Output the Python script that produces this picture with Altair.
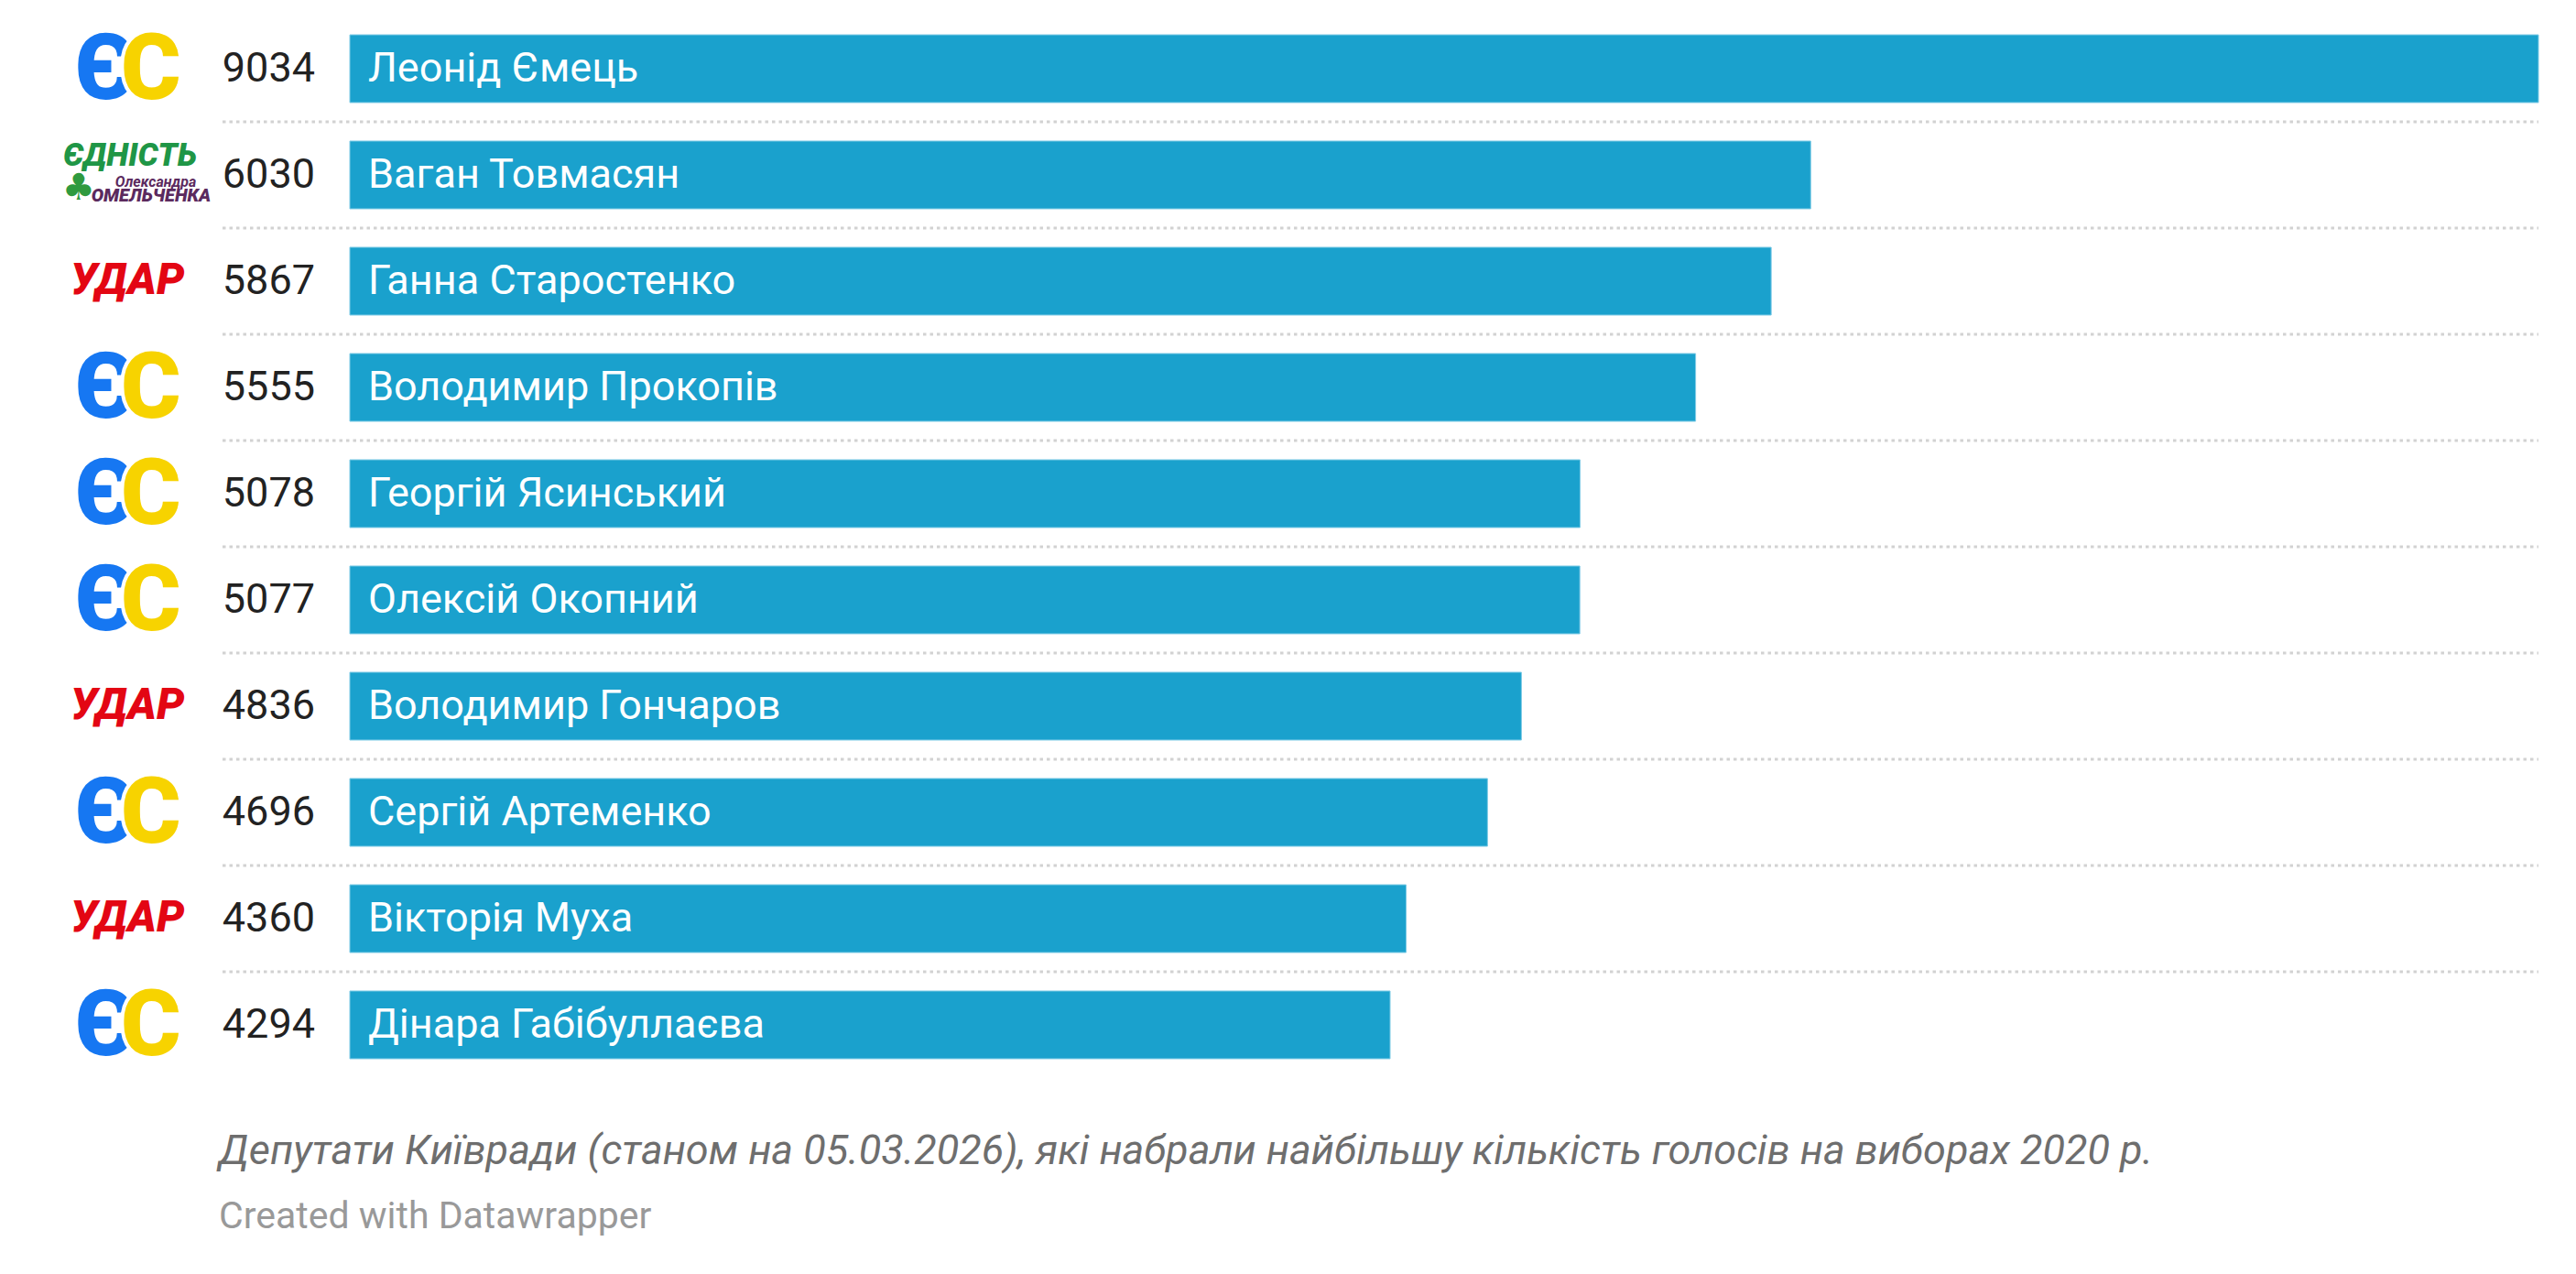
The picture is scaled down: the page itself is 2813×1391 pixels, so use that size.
import altair as alt
import pandas as pd

names = ["Леонід Ємець", "Ваган Товмасян", "Ганна Старостенко", "Володимир Прокопів",
         "Георгій Ясинський", "Олексій Окопний", "Володимир Гончаров", "Сергій Артеменко",
         "Вікторія Муха", "Дінара Габібуллаєва"]
votes = [9034, 6030, 5867, 5555, 5078, 5077, 4836, 4696, 4360, 4294]
parties = ["ЄС", "Єдність", "УДАР", "ЄС", "ЄС", "ЄС", "УДАР", "ЄС", "УДАР", "ЄС"]
caption = "Депутати Київради (станом на 05.03.2026), які набрали найбільшу кількість голосів на виборах 2020 р."
credit = "Created with Datawrapper"

df = pd.DataFrame({"name": names, "votes": votes, "party": parties, "idx": list(range(len(names)))})
base = alt.Chart(df)

yscale = alt.Scale(domain=names, range=[9, 1169], paddingInner=0.362, paddingOuter=0.181)
Y = alt.Y("name:N", sort=names, scale=yscale, axis=None)
X = alt.X("votes:Q", scale=alt.Scale(domain=[0, 9034], range=[374, 2764], nice=False, zero=True), axis=None)

FONT = "Roboto"

rules = base.transform_filter("datum.idx < 9").mark_rule(
    color="#d2d2d2", strokeWidth=3, strokeDash=[3.5, 4], yOffset=21
).encode(
    x=alt.value(235), x2=alt.value(2764),
    y=alt.Y("name:N", sort=names, scale=yscale, axis=None, bandPosition=1),
)

bars = base.mark_bar(color="#1aa1cd", stroke="#7fcbe6", strokeWidth=1).encode(x=X, y=Y)

bar_labels = base.mark_text(
    align="left", baseline="middle", dx=20, font=FONT, fontSize=45, color="white"
).encode(x=alt.datum(0), y=Y, text="name:N")

num_labels = base.mark_text(
    align="right", baseline="middle", font=FONT, fontSize=45, color="#222222"
).encode(x=alt.value(336), y=Y, text=alt.Text("votes:Q", format="d"))

es = base.transform_filter("datum.party == 'ЄС'")
es_e = es.mark_text(align="right", baseline="middle", font=FONT, fontSize=100, fontWeight=900,
                    color="#1677f2", dy=3).encode(x=alt.value(139), y=Y, text=alt.value("Є"))
es_c_bg = es.mark_text(align="left", baseline="middle", font=FONT, fontSize=100, fontWeight=900,
                       color="white", stroke="white", strokeWidth=8, dy=3).encode(
    x=alt.value(124), y=Y, text=alt.value("С"))
es_c = es.mark_text(align="left", baseline="middle", font=FONT, fontSize=100, fontWeight=900,
                    color="#f7d300", dy=3).encode(x=alt.value(124), y=Y, text=alt.value("С"))

udar = base.transform_filter("datum.party == 'УДАР'").mark_text(
    align="center", baseline="middle", font=FONT, fontSize=48, fontWeight=900, fontStyle="italic",
    color="#e30613"
).encode(x=alt.value(131), y=Y, text=alt.value("УДАР"))

ed = base.transform_filter("datum.party == 'Єдність'")
ed1 = ed.mark_text(align="center", baseline="middle", font=FONT, fontSize=35, fontWeight=900,
                   fontStyle="italic", color="#1f9646", dy=-21).encode(
    x=alt.value(134), y=Y, text=alt.value("ЄДНІСТЬ"))
ed2 = ed.mark_text(align="center", baseline="middle", font=FONT, fontSize=16, fontWeight="bold",
                   fontStyle="italic", color="#5b2a5e", dy=8).encode(
    x=alt.value(162), y=Y, text=alt.value("Олександра"))
ed3 = ed.mark_text(align="center", baseline="middle", font=FONT, fontSize=20, fontWeight=900,
                   fontStyle="italic", color="#5b2a5e", dy=23).encode(
    x=alt.value(157), y=Y, text=alt.value("ОМЕЛЬЧЕНКА"))
ed4 = ed.mark_text(align="center", baseline="middle", font="DejaVu Sans", fontSize=40,
                   color="#2f9a3f", dy=15).encode(x=alt.value(78), y=Y, text=alt.value("♣"))

cap = alt.Chart(pd.DataFrame({"t": [caption]})).mark_text(
    align="left", baseline="middle", font=FONT, fontSize=45, fontStyle="italic", color="#6e6e6e"
).encode(x=alt.value(231), y=alt.value(1249), text="t:N")
cred = alt.Chart(pd.DataFrame({"t": [credit]})).mark_text(
    align="left", baseline="middle", font=FONT, fontSize=41, color="#999999"
).encode(x=alt.value(231), y=alt.value(1321), text="t:N")

chart = alt.layer(
    rules, bars, bar_labels, num_labels, es_e, es_c_bg, es_c, udar, ed1, ed2, ed3, ed4, cap, cred
).properties(
    width=2790, height=1370, autosize=alt.AutoSizeParams(type="none"), padding=0,
    background="white"
).configure_view(strokeWidth=0, stroke="transparent")

chart.save("out.html", embed_options={"renderer": "svg", "actions": False})
